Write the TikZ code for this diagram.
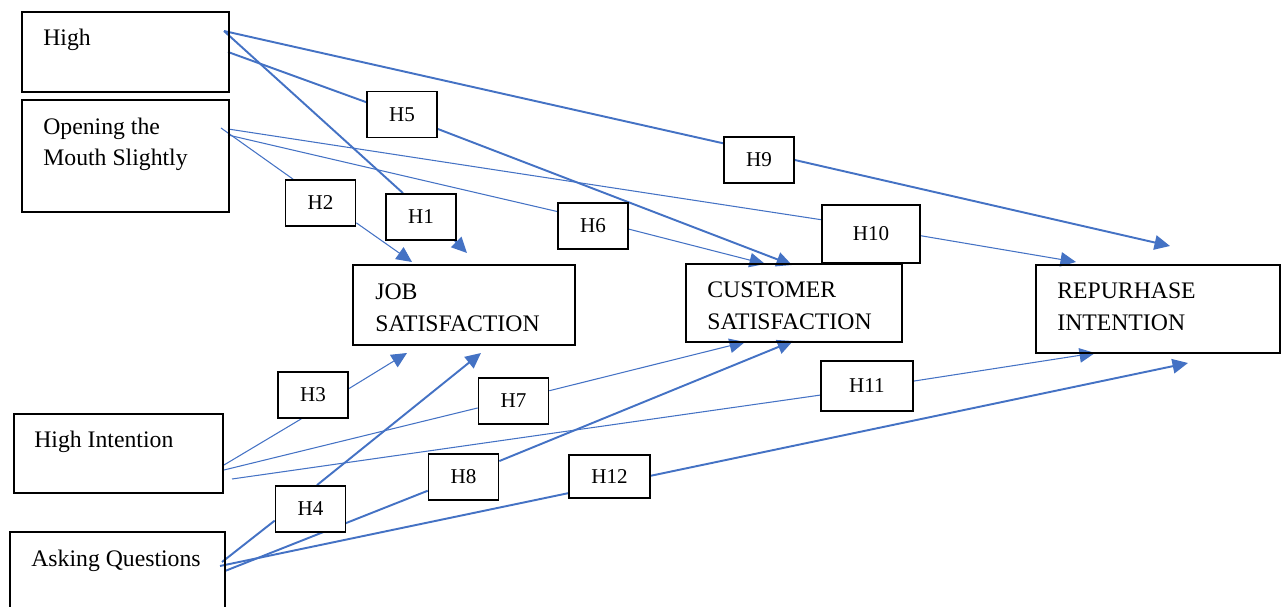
\documentclass[tikz,border=0pt]{standalone}
\usepackage{fontspec}
\setmainfont{Liberation Serif}
\usetikzlibrary{arrows.meta,backgrounds}
\definecolor{lineblue}{HTML}{4472C4}

\begin{document}
\begin{tikzpicture}[x=0.02cm, y=-0.02cm]
                \tikzset{box/.style = {shape=rectangle, draw, line width=0.9pt}}
                \tikzset{hyp/.style = {box, fill=white, inner sep=0pt, minimum width=1.4cm, minimum height=0.92cm, font=\fontsize{12}{14}\selectfont}}
                \tikzset{txt/.style = {inner sep=0pt, align=left, font=\fontsize{13.5}{18}\selectfont}}
                \tikzset{link/.style = {draw=lineblue, line width=0.6pt}}
                \tikzset{heavylink/.style = {draw=lineblue, line width=1.1pt}}
                \tikzset{arrowed/.style = {-{Triangle[length=0.31cm, width=0.29cm]}}}
                \useasboundingbox (0,0) rectangle (1282,607);

                \node[box, minimum width=4.14cm, minimum height=1.6cm] (high) at (125.5, 52) {};
                \node[box, minimum width=4.14cm, minimum height=2.24cm] (open) at (125.5, 156) {};
                \node[box, minimum width=4.18cm, minimum height=1.58cm] (hint) at (118.5, 453.5) {};
                \node[box, minimum width=4.3cm, minimum height=1.88cm] (ask) at (117.5, 579) {};
                \node[box, minimum width=4.44cm, minimum height=1.6cm] (job) at (464, 305) {};
                \node[box, minimum width=4.32cm, minimum height=1.56cm] (cust) at (794, 303) {};
                \node[box, minimum width=4.88cm, minimum height=1.76cm] (rep) at (1158, 309) {};

                \node[txt, anchor=base west] (hightxt) at (43, 46) {High};
                \node[txt, anchor=west] (opentxt) at (43, 144.5) {Opening the\\Mouth Slightly};
                \node[txt, anchor=base west] (hinttxt) at (34, 448) {High Intention};
                \node[txt, anchor=base west] (asktxt) at (31, 567) {Asking Questions};
                \node[txt, anchor=west] (jobtxt) at (375, 307.5) {JOB\\SATISFACTION};
                \node[txt, anchor=west] (custtxt) at (707, 306) {CUSTOMER\\SATISFACTION};
                \node[txt, anchor=west] (reptxt) at (1057, 307) {REPURHASE\\INTENTION};

                \node[hyp] (h1) at (421, 217) {H1};
                \node[hyp] (h2) at (320.5, 203) {H2};
                \node[hyp] (h3) at (313, 395) {H3};
                \node[hyp] (h4) at (310.5, 509) {H4};
                \node[hyp] (h5) at (402, 114.5) {H5};
                \node[hyp] (h6) at (593, 226) {H6};
                \node[hyp] (h7) at (513.5, 401) {H7};
                \node[hyp] (h8) at (463.5, 477) {H8};
                \node[hyp] (h9) at (759, 160) {H9};
                \node[hyp, minimum width=1.96cm, minimum height=1.16cm] (h10) at (871, 234) {H10};
                \node[hyp, minimum width=1.84cm, minimum height=1cm] (h11) at (867, 386) {H11};
                \node[hyp, minimum width=1.62cm, minimum height=0.86cm] (h12) at (609.5, 476.5) {H12};

                \coordinate (hi1) at (224, 31);
                \coordinate (hi5) at (228, 52);
                \coordinate (op2) at (221, 128);
                \coordinate (op10) at (228, 129);
                \coordinate (op6) at (228, 135);
                \coordinate (in3) at (224, 465);
                \coordinate (in7) at (224, 470);
                \coordinate (in11) at (232, 479);
                \coordinate (as4) at (222, 562);
                \coordinate (as12) at (220, 566);
                \coordinate (as8) at (225, 571);

                \coordinate (t1) at (467, 253);
                \coordinate (t2) at (412, 262);
                \coordinate (t3) at (407, 353);
                \coordinate (t4) at (481, 353);
                \coordinate (t5) at (792, 265);
                \coordinate (t6) at (765, 264);
                \coordinate (t7) at (745, 342);
                \coordinate (t8) at (793, 341);
                \coordinate (t9) at (1170, 246);
                \coordinate (t10) at (1076, 262);
                \coordinate (t11) at (1095, 353);
                \coordinate (t12) at (1188, 363);

                \begin{scope}[on background layer]
                \draw[heavylink] (hi1) -- (h1.127);
                \draw[heavylink, arrowed] (h1.325) -- (t1);

                \draw[link] (op2) -- (h2.139);
                \draw[link, arrowed] (h2.331) -- (t2);

                \draw[link] (in3) -- (h3.244);
                \draw[link, arrowed] (h3.10) -- (t3);

                \draw[heavylink] (as4) -- (h4.198);
                \draw[heavylink, arrowed] (h4.75) -- (t4);

                \draw[heavylink] (hi5) -- (h5.161);
                \draw[heavylink, arrowed] (h5.338) -- (t5);

                \draw[link] (op6) -- (h6.158);
                \draw[link, arrowed] (h6.355) -- (t6);

                \draw[link] (in7) -- (h7.191);
                \draw[link, arrowed] (h7.16) -- (t7);

                \draw[heavylink] (as8) -- (h8.201);
                \draw[heavylink, arrowed] (h8.24) -- (t8);

                \draw[heavylink] (hi1) -- (h9.155);
                \draw[heavylink, arrowed] (h9.0) -- (t9);

                \draw[link] (op10) -- (h10.164);
                \draw[link, arrowed] (h10.358) -- (t10);

                \draw[link] (in11) -- (h11.191);
                \draw[link, arrowed] (h11.6) -- (t11);

                \draw[heavylink] (as12) -- (h12.202);
                \draw[heavylink, arrowed] (h12.1) -- (t12);
                \end{scope}
            \end{tikzpicture}
\end{document}
